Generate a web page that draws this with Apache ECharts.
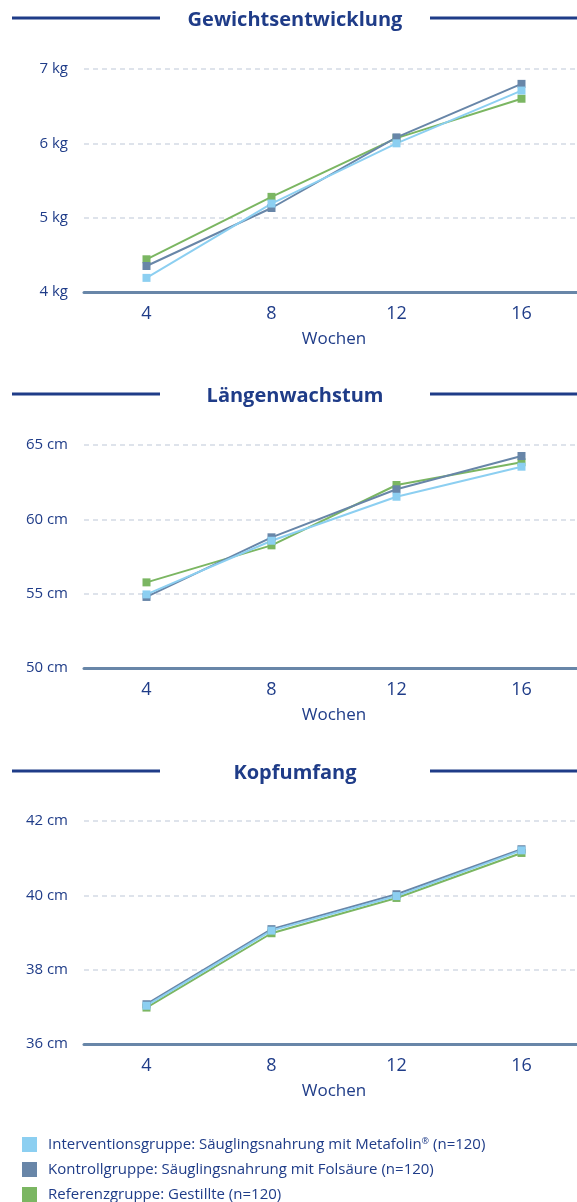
<!DOCTYPE html>
<html>
<head>
<meta charset="utf-8">
<script src="https://cdn.jsdelivr.net/npm/echarts@6/dist/echarts.min.js"></script>
<style>
  html, body { margin: 0; padding: 0; background: #fff; }
  #chart { width: 577px; height: 1202px; }
</style>
</head>
<body>
<div id="chart"></div>
<script>
// Kategorien (Wochen)
const weeks = ['4', '8', '12', '16']

// Gewichtsentwicklung (kg)
const weightIntervention = [4.19, 5.19, 6.0, 6.71]
const weightKontroll = [4.35, 5.13, 6.08, 6.8]
const weightReferenz = [4.44, 5.28, 6.07, 6.6]

// Längenwachstum (cm)
const lengthIntervention = [54.95, 58.56, 61.52, 63.54]
const lengthKontroll = [54.78, 58.79, 62.02, 64.26]
const lengthReferenz = [55.76, 58.25, 62.31, 63.84]

// Kopfumfang (cm)
const headIntervention = [37.03, 39.05, 39.98, 41.21]
const headKontroll = [37.07, 39.09, 40.03, 41.24]
const headReferenz = [36.98, 38.98, 39.93, 41.14]

const titles = ['Gewichtsentwicklung', 'Längenwachstum', 'Kopfumfang']
const groupNames = [
  'Interventionsgruppe: Säuglingsnahrung mit Metafolin® (n=120)',
  'Kontrollgruppe: Säuglingsnahrung mit Folsäure (n=120)',
  'Referenzgruppe: Gestillte (n=120)'
]

const colorIntervention = '#8ccff1'
const colorKontroll = '#6886a8'
const colorReferenz = '#7bb662'
const navy = '#1f3c88'
const font = '"Open Sans", "Noto Sans", sans-serif'

const gridTops = [69, 445, 821]
const titleY = [18, 394, 771]

const yAxisDefs = [
  { min: 4, max: 7, interval: 1, unit: 'kg' },
  { min: 50, max: 65, interval: 5, unit: 'cm' },
  { min: 36, max: 42, interval: 2, unit: 'cm' }
]

const chart = echarts.init(document.getElementById('chart'))

// Raster ragt rechts über den Rand hinaus (wie im Original)
const grids = gridTops.map(top => ({
  left: 84, top: top, width: 500, height: 223, outerBoundsMode: 'none'
}))

const xAxes = gridTops.map((t, i) => ({
  type: 'category',
  gridIndex: i,
  data: weeks,
  boundaryGap: true,
  axisTick: { show: false },
  axisLine: { lineStyle: { color: '#6886a8', width: 3 } },
  axisLabel: { color: navy, fontSize: 18, fontFamily: font, margin: 13 },
  name: 'Wochen',
  nameLocation: 'middle',
  nameGap: 39,
  nameTextStyle: { color: navy, fontSize: 17, fontFamily: font }
}))

const yAxes = yAxisDefs.map((d, i) => ({
  type: 'value',
  gridIndex: i,
  min: d.min,
  max: d.max,
  interval: d.interval,
  axisLine: { show: false },
  axisTick: { show: false },
  axisLabel: {
    color: navy, fontSize: 15, fontFamily: font, margin: 16,
    formatter: v => v + ' ' + d.unit
  },
  splitLine: { showMinLine: false, lineStyle: { color: '#d3dae5', type: [5, 4], width: 1.5 } }
}))

const mkSeries = (name, data, color, idx) => ({
  name: name,
  type: 'line',
  xAxisIndex: idx,
  yAxisIndex: idx,
  data: data,
  symbol: 'rect',
  symbolSize: 8,
  showAllSymbol: true,
  lineStyle: { color: color, width: 2 },
  itemStyle: { color: color },
  emphasis: { disabled: true }
})

const sets = [
  [weightIntervention, weightKontroll, weightReferenz],
  [lengthIntervention, lengthKontroll, lengthReferenz],
  [headIntervention, headKontroll, headReferenz]
]

const series = []
sets.forEach((s, i) => {
  // Referenz unten, Intervention oben
  series.push(mkSeries(groupNames[2], s[2], colorReferenz, i))
  series.push(mkSeries(groupNames[1], s[1], colorKontroll, i))
  series.push(mkSeries(groupNames[0], s[0], colorIntervention, i))
})

const graphics = []
titleY.forEach(y => {
  graphics.push({ type: 'line', shape: { x1: 12, y1: y, x2: 160, y2: y }, style: { stroke: navy, lineWidth: 3 } })
  graphics.push({ type: 'line', shape: { x1: 430, y1: y, x2: 577, y2: y }, style: { stroke: navy, lineWidth: 3 } })
})

const option = {
  animation: false,
  title: titles.map((t, i) => ({
    text: t,
    left: 295,
    top: titleY[i] - 8,
    textAlign: 'center',
    padding: 0,
    textStyle: { color: navy, fontSize: 20, fontWeight: 'bold', fontFamily: font }
  })),
  grid: grids,
  xAxis: xAxes,
  yAxis: yAxes,
  legend: {
    data: groupNames,
    orient: 'vertical',
    left: 22,
    top: 1137,
    icon: 'rect',
    itemWidth: 15,
    itemHeight: 15,
    itemGap: 10,
    padding: 0,
    formatter: name => name.replace('®', '{sup|®}'),
    textStyle: {
      color: navy, fontSize: 15, fontFamily: font, padding: [0, 0, 0, 6],
      rich: { sup: { fontSize: 9, color: navy, fontFamily: font, verticalAlign: 'top', padding: [0, 0, 6, 0] } }
    },
    selectedMode: false
  },
  color: [colorReferenz, colorKontroll, colorIntervention],
  graphic: graphics,
  series: series
}

chart.setOption(option)
</script>
</body>
</html>
